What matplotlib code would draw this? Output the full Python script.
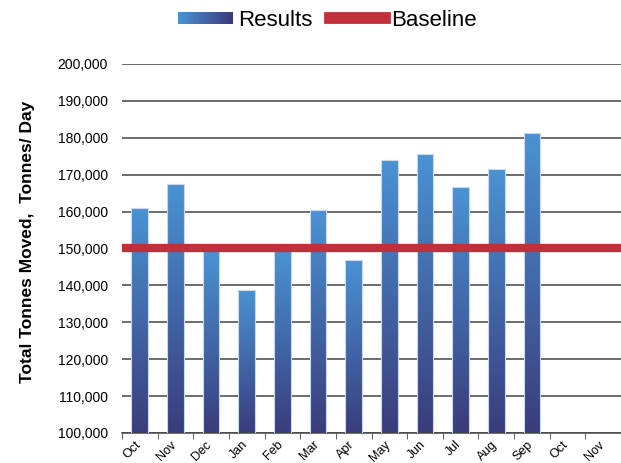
import matplotlib
matplotlib.use("Agg")
import matplotlib.pyplot as plt
import matplotlib.patches as mpatches
from matplotlib.colors import LinearSegmentedColormap
from matplotlib.legend_handler import HandlerBase
from matplotlib.ticker import FuncFormatter
import numpy as np

plt.rcParams['font.family'] = ['Liberation Sans', 'DejaVu Sans']

# ---------------------------------------------------------------- data
months = ['Oct', 'Nov', 'Dec', 'Jan', 'Feb', 'Mar', 'Apr', 'May', 'Jun',
          'Jul', 'Aug', 'Sep', 'Oct', 'Nov']
results = [161000, 167500, 149500, 138800, 149500, 160300, 146800,
           174100, 175700, 166600, 171600, 181400, np.nan, np.nan]
baseline = 150000

y_min, y_max, y_step = 100000, 200000, 10000

top_color = '#4a93d4'
bottom_color = '#3a3c7c'
red = '#c0303a'

cmap = LinearSegmentedColormap.from_list('bars', [bottom_color, top_color])


class GradientHandler(HandlerBase):
    # horizontal gradient swatch for the legend (light -> dark)
    def create_artists(self, legend, orig_handle, xdescent, ydescent,
                       width, height, fontsize, trans):
        n = 30
        arts = []
        for k in range(n):
            c = cmap(1 - k / (n - 1))
            r = mpatches.Rectangle((-xdescent + width * k / n, -ydescent + height * 0.12),
                                   width / n + 0.3, height * 0.76,
                                   facecolor=c, edgecolor='none', transform=trans)
            arts.append(r)
        return arts


fig = plt.figure(figsize=(6.21, 4.63), dpi=100)
ax = fig.add_axes([122 / 621, 30 / 463, 499 / 621, 369 / 463])

x = np.arange(len(months))
bars = ax.bar(x, results, width=0.47, bottom=0, color='none',
              edgecolor='#c8d8ee', linewidth=0.8, zorder=3)

# gradient fill inside each bar
grad = np.linspace(0, 1, 256).reshape(-1, 1)
for b, v in zip(bars, results):
    if np.isnan(v):
        continue
    x0 = b.get_x()
    im = ax.imshow(grad, cmap=cmap, aspect='auto', origin='lower',
                   extent=[x0, x0 + b.get_width(), y_min, v], zorder=2)
    im.set_clip_path(b)

ax.axhline(baseline, color=red, linewidth=6, zorder=4)

ax.set_xlim(-0.5, len(months) - 0.5)
ax.set_ylim(y_min, y_max)
ax.set_yticks(np.arange(y_min, y_max + 1, y_step))
ax.yaxis.set_major_formatter(FuncFormatter(lambda v, p: f'{int(v):,}'))
ax.yaxis.grid(True, color='#444444', linewidth=1.1, zorder=1)
ax.set_axisbelow(True)

# labels anchored a little left of the bar centre, as in the original
ax.set_xticks(x - 0.15)
ax.set_xticklabels(months, rotation=45, ha='right', rotation_mode='anchor', fontsize=9)
ax.set_xticks(np.arange(-0.5, len(months), 1), minor=True)
ax.tick_params(axis='x', which='major', length=0, pad=4)
ax.tick_params(axis='x', which='minor', length=4, color='#444444')
ax.tick_params(axis='y', length=0, labelsize=10, pad=10)

for s in ['top', 'right', 'left']:
    ax.spines[s].set_visible(False)
ax.spines['bottom'].set_color('#444444')
ax.spines['bottom'].set_linewidth(1.1)

fig.text(28 / 621, 1 - 242 / 463, 'Total Tonnes Moved,  Tonnes/ Day',
         rotation=90, ha='center', va='center', fontsize=12.5, fontweight='bold')

res_handle = mpatches.Patch(label='Results')
base_handle = plt.Line2D([], [], color=red, linewidth=8.5, label='Baseline')
fig.legend(handles=[res_handle, base_handle], labels=['Results', 'Baseline'],
           handler_map={res_handle: GradientHandler()},
           loc='center', bbox_to_anchor=(327 / 621, 1 - 20 / 463), ncol=2,
           frameon=False, fontsize=16, handlelength=2.45, handletextpad=0.27,
           columnspacing=0.8)

fig.savefig('out.png', dpi=100)
